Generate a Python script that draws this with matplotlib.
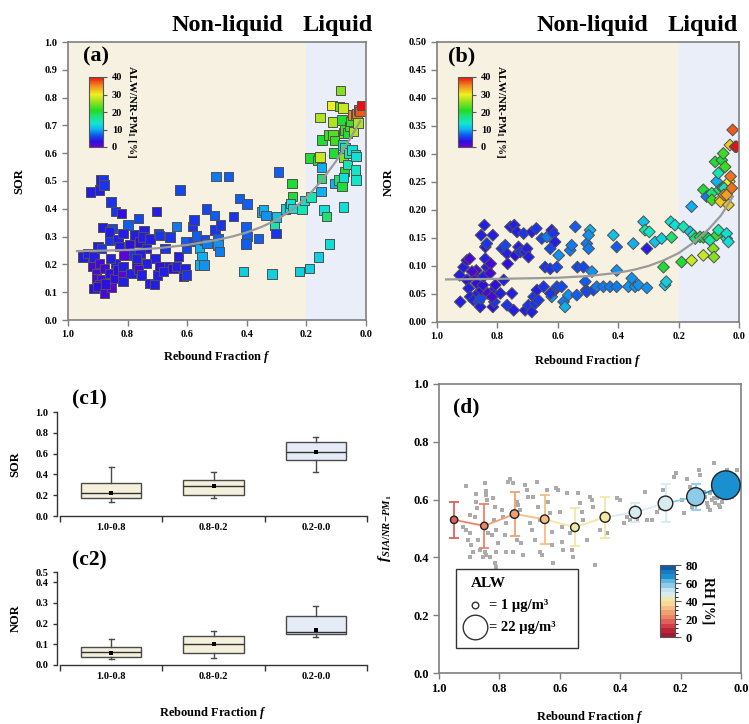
import numpy as np
import matplotlib
matplotlib.use('Agg')
import matplotlib.pyplot as plt
from matplotlib.colors import LinearSegmentedColormap, ListedColormap, BoundaryNorm
from matplotlib.patches import Rectangle

plt.rcParams['font.family'] = 'Liberation Serif'
plt.rcParams['font.weight'] = 'bold'
plt.rcParams['axes.labelweight'] = 'bold'
plt.rcParams['mathtext.fontset'] = 'custom'
plt.rcParams['mathtext.rm'] = 'Liberation Serif:bold'
plt.rcParams['mathtext.it'] = 'Liberation Serif:italic:bold'
plt.rcParams['mathtext.bf'] = 'Liberation Serif:bold'

# ---- (a) SOR vs rebound fraction, coloured by ALW/NR-PM1 ----
f_a = [0.95,0.933,0.913,0.924,0.894,0.891,0.88,0.879,0.856,0.84,0.82,0.885,0.851,0.798,0.764,0.9,0.888,0.86,0.86,0.832,0.828,0.815,0.793,0.776,0.759,0.745,0.748,0.737,0.725,0.703,0.697,0.692,0.675,0.658,0.708,0.669,0.737,0.916,0.905,0.894,0.905,0.888,0.877,0.894,0.913,0.9,0.877,0.854,0.874,0.86,0.843,0.84,0.832,0.815,0.812,0.815,0.815,0.857,0.788,0.781,0.77,0.764,0.753,0.759,0.77,0.726,0.71,0.7,0.692,0.68,0.647,0.63,0.636,0.613,0.608,0.602,0.624,0.636,0.582,0.577,0.602,0.604,0.582,0.568,0.559,0.551,0.557,0.543,0.541,0.533,0.535,0.509,0.503,0.461,0.507,0.488,0.496,0.496,0.492,0.445,0.425,0.4,0.402,0.4,0.402,0.411,0.361,0.35,0.344,0.335,0.316,0.308,0.302,0.294,0.3,0.271,0.257,0.249,0.247,0.254,0.246,0.223,0.215,0.207,0.189,0.189,0.185,0.163,0.154,0.154,0.15,0.15,0.151,0.148,0.159,0.141,0.133,0.123,0.125,0.114,0.112,0.111,0.109,0.105,0.105,0.092,0.086,0.089,0.08,0.08,0.077,0.075,0.077,0.075,0.073,0.075,0.075,0.07,0.07,0.063,0.058,0.062,0.055,0.05,0.047,0.044,0.042,0.036,0.036,0.033,0.033,0.036,0.033,0.03,0.025,0.02,0.014,0.027]
sor_a = [0.226,0.24,0.226,0.46,0.468,0.504,0.504,0.486,0.424,0.39,0.383,0.333,0.33,0.341,0.365,0.264,0.258,0.288,0.316,0.29,0.264,0.312,0.27,0.306,0.28,0.322,0.298,0.258,0.292,0.39,0.312,0.304,0.258,0.298,0.222,0.192,0.204,0.192,0.168,0.204,0.15,0.144,0.186,0.126,0.114,0.12,0.096,0.118,0.13,0.168,0.15,0.204,0.18,0.158,0.234,0.138,0.192,0.222,0.168,0.234,0.198,0.182,0.162,0.24,0.222,0.132,0.128,0.162,0.192,0.174,0.186,0.228,0.192,0.156,0.186,0.162,0.468,0.336,0.336,0.36,0.258,0.282,0.282,0.302,0.258,0.228,0.198,0.198,0.288,0.276,0.4,0.375,0.516,0.516,0.324,0.342,0.294,0.27,0.246,0.372,0.438,0.418,0.334,0.3,0.274,0.174,0.294,0.388,0.396,0.375,0.166,0.339,0.312,0.532,0.37,0.4,0.406,0.49,0.444,0.42,0.402,0.174,0.4,0.429,0.582,0.186,0.442,0.574,0.729,0.586,0.549,0.508,0.462,0.648,0.226,0.396,0.372,0.273,0.666,0.772,0.712,0.666,0.6,0.492,0.645,0.504,0.825,0.768,0.72,0.48,0.762,0.672,0.63,0.586,0.534,0.513,0.406,0.618,0.684,0.56,0.6,0.672,0.696,0.714,0.612,0.738,0.678,0.594,0.525,0.588,0.504,0.54,0.738,0.742,0.756,0.75,0.771,0.708]
alw_a = [4,4,4,4,4,4,5,5,5,5,3,4,6,7,6,4,5,5,4,4,4,4,3,4,3,4,4,4,4,4,6,5,5,5,4,4,4,2,2,2,2,2,2,2,3,3,2,1,3,3,3,4,3,1,1,4,4,4,4,5,3,2,4,4,4,4,4,4,3,4,3,4,4,4,4,5,6,8,5,5,6,7,6,7,10,10,10,9,6,8,6,7,8,7,5,5,7,9,8,5,7,7,7,7,7,12,7,10,10,9,12,15,5,7,11,12,13,20,20,13,13,12,15,13,20,12,15,20,27,28,10,18,10,20,12,13,18,13,22,30,27,23,20,10,22,18,25,23,20,20,28,25,13,25,20,13,13,15,22,15,15,20,22,22,13,35,27,14,13,13,14,14,36,36,37,37,42,27]
fit_f_a = [0.97,0.9,0.8,0.7,0.6,0.5,0.45,0.4,0.35,0.3,0.25,0.2,0.15,0.1,0.06,0.02]
fit_sor_a = [0.248,0.249,0.252,0.258,0.27,0.288,0.3,0.315,0.335,0.36,0.395,0.44,0.5,0.572,0.64,0.715]

# ---- (b) NOR vs rebound fraction ----
f_b = [0.925,0.923,0.912,0.901,0.892,0.901,0.895,0.89,0.879,0.873,0.87,0.884,0.868,0.865,0.862,0.857,0.855,0.852,0.848,0.846,0.84,0.84,0.835,0.854,0.843,0.815,0.835,0.822,0.824,0.818,0.815,0.81,0.832,0.818,0.807,0.79,0.779,0.785,0.774,0.768,0.766,0.768,0.752,0.746,0.757,0.744,0.735,0.741,0.73,0.724,0.713,0.708,0.702,0.697,0.708,0.697,0.686,0.68,0.675,0.664,0.669,0.686,0.671,0.653,0.647,0.636,0.625,0.62,0.614,0.609,0.642,0.625,0.62,0.609,0.625,0.603,0.603,0.597,0.587,0.581,0.576,0.565,0.559,0.554,0.542,0.537,0.535,0.515,0.509,0.506,0.504,0.504,0.498,0.493,0.498,0.487,0.482,0.471,0.449,0.427,0.405,0.416,0.405,0.405,0.366,0.35,0.355,0.344,0.333,0.316,0.311,0.305,0.305,0.297,0.278,0.256,0.25,0.245,0.241,0.223,0.226,0.212,0.19,0.184,0.157,0.157,0.162,0.151,0.145,0.129,0.118,0.118,0.118,0.107,0.107,0.101,0.096,0.09,0.09,0.085,0.083,0.079,0.074,0.074,0.068,0.068,0.065,0.063,0.061,0.057,0.054,0.052,0.049,0.05,0.046,0.041,0.041,0.035,0.041,0.035,0.032,0.03,0.028,0.024,0.021,0.013,0.008]
nor_b = [0.0835,0.036,0.098,0.11,0.113,0.075,0.06,0.045,0.039,0.081,0.092,0.09,0.069,0.051,0.036,0.027,0.042,0.057,0.066,0.081,0.113,0.134,0.14,0.155,0.173,0.155,0.098,0.104,0.087,0.054,0.027,0.036,0.051,0.045,0.066,0.051,0.075,0.131,0.137,0.122,0.104,0.03,0.051,0.021,0.17,0.173,0.161,0.119,0.134,0.125,0.158,0.125,0.131,0.116,0.021,0.03,0.018,0.045,0.033,0.039,0.057,0.161,0.167,0.149,0.063,0.152,0.131,0.164,0.158,0.143,0.098,0.095,0.045,0.057,0.051,0.063,0.098,0.119,0.063,0.036,0.027,0.048,0.128,0.137,0.17,0.048,0.098,0.098,0.072,0.057,0.054,0.14,0.131,0.164,0.155,0.09,0.057,0.063,0.063,0.063,0.063,0.155,0.134,0.092,0.063,0.14,0.078,0.063,0.066,0.179,0.164,0.131,0.061,0.161,0.143,0.149,0.098,0.066,0.072,0.151,0.179,0.173,0.107,0.17,0.11,0.206,0.161,0.155,0.149,0.152,0.151,0.119,0.236,0.224,0.152,0.149,0.146,0.23,0.218,0.131,0.116,0.286,0.251,0.155,0.164,0.266,0.236,0.218,0.215,0.289,0.239,0.301,0.239,0.227,0.277,0.149,0.158,0.143,0.227,0.209,0.251,0.316,0.26,0.239,0.343,0.313,0.313]
alw_b = [4,4,4,2,2,3,4,4,4,2,2,2,3,4,6,4,6,3,3,4,4,4,5,4,4,4,4,2,2,4,3,5,2,2,3,4,4,5,6,4,3,5,4,4,4,4,4,3,4,5,5,4,4,4,4,5,4,5,5,5,4,4,5,6,5,8,6,4,5,4,5,5,9,2,5,6,6,9,6,8,10,9,8,8,7,7,6,6,7,6,6,8,8,10,9,9,6,8,8,8,8,11,7,9,9,10,9,9,9,11,16,4,9,14,11,12,20,12,12,18,13,13,20,15,28,10,11,15,18,20,20,28,20,8,20,18,15,18,22,25,25,20,10,22,15,15,18,30,32,20,20,22,15,35,22,15,13,13,34,32,30,32,36,36,37,41,42]
fit_f_b = [0.97,0.9,0.8,0.7,0.6,0.5,0.45,0.4,0.35,0.3,0.25,0.2,0.15,0.1,0.06,0.02]
fit_nor_b = [0.076,0.0765,0.077,0.078,0.079,0.082,0.085,0.088,0.093,0.1,0.11,0.123,0.142,0.166,0.19,0.224]

# ---- (c1)/(c2) box statistics per rebound-fraction class ----
classes = ['1.0-0.8', '0.8-0.2', '0.2-0.0']
sor_whislo = [0.139, 0.171, 0.426]
sor_q1 = [0.171, 0.2, 0.539]
sor_med = [0.219, 0.287, 0.616]
sor_mean = [0.219, 0.287, 0.616]
sor_q3 = [0.316, 0.345, 0.71]
sor_whishi = [0.468, 0.423, 0.758]
nor_whislo = [0.027, 0.035, 0.137]
nor_q1 = [0.037, 0.058, 0.152]
nor_med = [0.061, 0.1, 0.161]
nor_mean = [0.058, 0.1, 0.168]
nor_q3 = [0.087, 0.14, 0.239]
nor_whishi = [0.124, 0.166, 0.285]

# ---- (d) fSIA/NR-PM1 vs rebound fraction ----
f_d = [0.909,0.898,0.92,0.909,0.898,0.904,0.893,0.887,0.898,0.878,0.876,0.874,0.882,0.871,0.865,0.854,0.848,0.845,0.843,0.841,0.837,0.848,0.843,0.832,0.821,0.815,0.819,0.81,0.826,0.804,0.812,0.815,0.81,0.793,0.788,0.777,0.782,0.777,0.771,0.765,0.754,0.743,0.738,0.732,0.743,0.754,0.727,0.721,0.716,0.71,0.705,0.688,0.699,0.693,0.683,0.677,0.671,0.666,0.666,0.66,0.644,0.638,0.633,0.627,0.627,0.622,0.611,0.605,0.6,0.594,0.594,0.588,0.577,0.566,0.561,0.555,0.539,0.533,0.528,0.522,0.511,0.5,0.494,0.489,0.483,0.467,0.456,0.45,0.445,0.412,0.4,0.389,0.378,0.367,0.345,0.317,0.312,0.295,0.279,0.268,0.257,0.235,0.223,0.215,0.196,0.19,0.179,0.168,0.163,0.14,0.135,0.124,0.118,0.113,0.108,0.102,0.091,0.102,0.096,0.085,0.08,0.074,0.063,0.058,0.046,0.024,0.013,0.019,0.015,0.03,0.052,0.08,0.069,0.091]
fsia_d = [0.648,0.547,0.506,0.495,0.483,0.46,0.443,0.42,0.403,0.619,0.593,0.57,0.541,0.46,0.426,0.403,0.658,0.631,0.616,0.599,0.483,0.42,0.409,0.403,0.604,0.576,0.529,0.495,0.478,0.449,0.42,0.38,0.368,0.564,0.541,0.518,0.478,0.417,0.662,0.673,0.656,0.593,0.581,0.564,0.46,0.42,0.449,0.409,0.65,0.633,0.61,0.61,0.518,0.495,0.46,0.662,0.576,0.529,0.42,0.409,0.633,0.593,0.553,0.489,0.443,0.38,0.639,0.633,0.558,0.506,0.455,0.426,0.622,0.483,0.426,0.403,0.622,0.587,0.558,0.529,0.46,0.61,0.599,0.576,0.374,0.495,0.541,0.529,0.483,0.604,0.599,0.518,0.541,0.529,0.529,0.627,0.529,0.529,0.558,0.57,0.633,0.587,0.679,0.691,0.599,0.553,0.673,0.645,0.576,0.702,0.685,0.627,0.61,0.587,0.576,0.564,0.725,0.622,0.599,0.587,0.604,0.581,0.593,0.691,0.702,0.685,0.702,0.662,0.627,0.61,0.61,0.633,0.576,0.604]
f_bin = [0.95, 0.85, 0.75, 0.65, 0.55, 0.45, 0.35, 0.25, 0.15, 0.05]
fsia_bin = [0.53, 0.509, 0.55, 0.532, 0.504, 0.539, 0.556, 0.587, 0.61, 0.65]
fsia_hi = [0.59, 0.585, 0.628, 0.617, 0.57, 0.608, 0.589, 0.653, 0.655, 0.69]
fsia_lo = [0.468, 0.432, 0.474, 0.448, 0.44, 0.467, 0.523, 0.521, 0.564, 0.61]
rh_bin = [17, 24, 27, 33, 42, 43, 48, 49, 58, 67]
alw_bin = [1.9, 1.9, 3.3, 3.3, 3.3, 5.0, 7.3, 10.3, 14.3, 26.7]
alw_legend = [1, 22]

# colour maps
alw_cmap = LinearSegmentedColormap.from_list('alw', [
    (0.0, '#7000d0'), (0.08, '#2a10e0'), (0.16, '#1050f0'), (0.26, '#10b8f0'),
    (0.34, '#10e8d0'), (0.45, '#20e070'), (0.52, '#20dc20'), (0.64, '#90e020'),
    (0.75, '#f0f020'), (0.87, '#f09020'), (1.0, '#e81010')])
rh_colors = ['#a01c30', '#b8243a', '#d23c48', '#e0605a', '#ec8468', '#f2a072',
             '#f6bd84', '#f8d89c', '#f2e6a8', '#d8ecf0', '#c4e3ef', '#8ccbea',
             '#5fb4e0', '#1a90d0', '#1a78bc', '#0b5ca2']
rh_cmap = ListedColormap(rh_colors)
rh_norm = BoundaryNorm(np.arange(0, 85, 5), rh_cmap.N)

spine_gray = '#7f7f7f'
beige = '#f6f1e1'
lightblue = '#e9eef8'


def alw_radius_pt(alw):
    # marker diameter in points for a given ALW (µg/m3)
    r_px = 3.3 + 0.4286 * (np.asarray(alw) - 1)
    return 2 * r_px * 0.72


def style_frame(ax):
    for s in ax.spines.values():
        s.set_color(spine_gray)
        s.set_linewidth(1.2)
    ax.tick_params(direction='out', length=4, width=1, color=spine_gray)


fig = plt.figure(figsize=(7.49, 7.24), dpi=100)

# ---------- (a) ----------
axa = fig.add_axes([68/749, 1-320/724, 298/749, 278/724])
axa.axvspan(1.0, 0.2, color=beige, zorder=0, lw=0)
axa.axvspan(0.2, 0.0, color=lightblue, zorder=0, lw=0)
axa.plot(fit_f_a, fit_sor_a, color='#9a9a9a', lw=1.6, zorder=3)
sca = axa.scatter(f_a, sor_a, c=alw_a, cmap=alw_cmap, vmin=0, vmax=40, marker='s',
                  s=46, edgecolors='#505050', linewidths=0.7, zorder=2)
axa.set_xlim(1.0, 0.0)
axa.set_ylim(0, 1.0)
axa.set_xticks(np.arange(0, 1.01, 0.2))
axa.set_xticklabels(['%.1f' % v for v in np.arange(0, 1.01, 0.2)])
axa.set_yticks(np.arange(0, 1.01, 0.1))
axa.set_yticklabels(['%.1f' % v for v in np.arange(0, 1.01, 0.1)])
style_frame(axa)
axa.tick_params(labelsize=7.5)
axa.set_ylabel('SOR', fontsize=9, labelpad=14)
axa.set_xlabel('Rebound Fraction $f$', fontsize=9, labelpad=7)
axa.text(0.05, 0.985, '(a)', transform=axa.transAxes, fontsize=16, va='top', ha='left')

caxa = fig.add_axes([89/749, 1-147/724, 14/749, 70/724])
cba = fig.colorbar(sca, cax=caxa, ticks=[0, 10, 20, 30, 40])
cba.outline.set_edgecolor('#555555')
caxa.tick_params(labelsize=7.5, length=3, color='#555555')
cba.set_label('ALW/NR-PM$_1$ [%]', rotation=270, fontsize=8, labelpad=11)

fig.text(227/749, 1-26/724, 'Non-liquid', fontsize=17.5, ha='center', va='center')
fig.text(338/749, 1-26/724, 'Liquid', fontsize=17.5, ha='center', va='center')

# ---------- (b) ----------
axb = fig.add_axes([437/749, 1-322/724, 302/749, 280/724])
axb.axvspan(1.0, 0.2, color=beige, zorder=0, lw=0)
axb.axvspan(0.2, 0.0, color=lightblue, zorder=0, lw=0)
axb.plot(fit_f_b, fit_nor_b, color='#9a9a9a', lw=1.6, zorder=3)
scb = axb.scatter(f_b, nor_b, c=alw_b, cmap=alw_cmap, vmin=0, vmax=40, marker='D',
                  s=36, edgecolors='#505050', linewidths=0.7, zorder=2)
axb.set_xlim(1.0, 0.0)
axb.set_ylim(0, 0.5)
axb.set_xticks(np.arange(0, 1.01, 0.2))
axb.set_xticklabels(['%.1f' % v for v in np.arange(0, 1.01, 0.2)])
axb.set_yticks(np.arange(0, 0.501, 0.05))
axb.set_yticklabels(['%.2f' % v for v in np.arange(0, 0.501, 0.05)])
style_frame(axb)
axb.tick_params(labelsize=7.5)
axb.set_ylabel('NOR', fontsize=9, labelpad=10)
axb.set_xlabel('Rebound Fraction $f$', fontsize=9, labelpad=8)
axb.text(0.036, 0.985, '(b)', transform=axb.transAxes, fontsize=16, va='top', ha='left')

caxb = fig.add_axes([458/749, 1-147/724, 14/749, 70/724])
cbb = fig.colorbar(scb, cax=caxb, ticks=[0, 10, 20, 30, 40])
cbb.outline.set_edgecolor('#555555')
caxb.tick_params(labelsize=7.5, length=3, color='#555555')
cbb.set_label('ALW/NR-PM$_1$ [%]', rotation=270, fontsize=8, labelpad=11)

fig.text(592/749, 1-26/724, 'Non-liquid', fontsize=17.5, ha='center', va='center')
fig.text(703/749, 1-26/724, 'Liquid', fontsize=17.5, ha='center', va='center')


# ---------- (c1) / (c2) ----------
def box_panel(ax, lo, q1, med, mean, q3, hi):
    stats = []
    for i in range(len(classes)):
        stats.append(dict(whislo=lo[i], q1=q1[i], med=med[i], mean=mean[i],
                          q3=q3[i], whishi=hi[i], fliers=[]))
    bp = ax.bxp(stats, positions=[1, 2, 3], widths=0.59, showmeans=True,
                patch_artist=True, capwidths=0.05,
                boxprops=dict(edgecolor='#4a4a4a', linewidth=1.0),
                medianprops=dict(color='#333333', linewidth=1.0),
                whiskerprops=dict(color='#4a4a4a', linewidth=1.0),
                capprops=dict(color='#4a4a4a', linewidth=1.0),
                meanprops=dict(marker='s', markerfacecolor='black',
                               markeredgewidth=0, markersize=2.6))
    for patch, col in zip(bp['boxes'], ['#f5f0dc', '#f5f0dc', '#e6ecf7']):
        patch.set_facecolor(col)
    ax.set_xlim(0.5, 3.5)
    ax.set_xticks([1, 2, 3])
    ax.set_xticklabels(classes)
    ax.set_xticks([0.5, 1.5, 2.5, 3.5], minor=True)
    ax.tick_params(axis='x', which='major', length=0, labelsize=7.5, pad=5)
    ax.tick_params(axis='x', which='minor', length=4, width=1, color='#333333')
    ax.tick_params(axis='y', labelsize=7.5, length=3, width=1, color='#333333')
    ax.spines['top'].set_visible(False)
    ax.spines['right'].set_visible(False)
    ax.spines['left'].set_position(('outward', 2))
    for s in ['left', 'bottom']:
        ax.spines[s].set_color('#333333')
        ax.spines[s].set_linewidth(1.0)
    ax.patch.set_alpha(0)


axc1 = fig.add_axes([60/749, 1-516/724, 307/749, 104/724])
box_panel(axc1, sor_whislo, sor_q1, sor_med, sor_mean, sor_q3, sor_whishi)
axc1.set_ylim(0, 1.0)
axc1.set_yticks(np.arange(0, 1.01, 0.2))
axc1.set_yticklabels(['%.1f' % v for v in np.arange(0, 1.01, 0.2)])
axc1.set_ylabel('SOR', fontsize=9, labelpad=10)
fig.text(72/749, 1-399/724, '(c1)', fontsize=15.5, ha='left', va='center')

axc2 = fig.add_axes([60/749, 1-665/724, 307/749, 93/724])
box_panel(axc2, nor_whislo, nor_q1, nor_med, nor_mean, nor_q3, nor_whishi)
axc2.set_ylim(0, 0.45)
axc2.set_yticks([0, 0.1, 0.2, 0.3, 0.4, 0.45])
axc2.set_yticklabels(['0.0', '0.1', '0.2', '0.3', '0.4', '0.5'])
axc2.set_ylabel('NOR', fontsize=9, labelpad=10)
fig.text(72/749, 1-560/724, '(c2)', fontsize=15.5, ha='left', va='center')
fig.text(213/749, 1-713/724, 'Rebound Fraction $f$', fontsize=9, ha='center', va='center')

# ---------- (d) ----------
axd = fig.add_axes([439/749, 1-673/724, 302/749, 289/724])
axd.scatter(f_d, fsia_d, marker='s', s=5, color='#ababab', lw=0, zorder=1)
bin_cols = [rh_cmap(rh_norm(v)) for v in rh_bin]
for i in range(len(f_bin) - 1):
    axd.plot(f_bin[i:i+2], fsia_bin[i:i+2], color=bin_cols[i+1], lw=1.3, zorder=2)
for i in range(len(f_bin)):
    axd.errorbar(f_bin[i], fsia_bin[i],
                 yerr=[[fsia_bin[i] - fsia_lo[i]], [fsia_hi[i] - fsia_bin[i]]],
                 fmt='none', ecolor=bin_cols[i], elinewidth=1.3, capsize=3.5,
                 capthick=1.3, zorder=3)
axd.scatter(f_bin, fsia_bin, s=alw_radius_pt(alw_bin) ** 2, c=bin_cols,
            edgecolors='#222222', linewidths=1.0, zorder=4)
axd.set_xlim(1.0, 0.0)
axd.set_ylim(0, 1.0)
axd.set_xticks(np.arange(0, 1.01, 0.2))
axd.set_xticklabels(['%.1f' % v for v in np.arange(0, 1.01, 0.2)])
axd.set_yticks(np.arange(0, 1.01, 0.2))
axd.set_yticklabels(['%.1f' % v for v in np.arange(0, 1.01, 0.2)])
style_frame(axd)
axd.tick_params(labelsize=9)
axd.set_ylabel('$f_{SIA/NR{-}PM_1}$', fontsize=11, labelpad=14)
axd.set_xlabel('Rebound Fraction $f$', fontsize=9, labelpad=10)
axd.text(0.046, 0.955, '(d)', transform=axd.transAxes, fontsize=15.5, va='top', ha='left')

# ALW size legend
axd.add_patch(Rectangle((0.056, 0.0865), 0.404, 0.2735, transform=axd.transAxes,
                        facecolor='white', edgecolor='#333333', lw=1.0, zorder=5))
axd.text(0.162, 0.311, 'ALW', transform=axd.transAxes, fontsize=11,
         ha='center', va='center', zorder=6)
for (yy, val) in zip([0.235, 0.159], alw_legend):
    axd.plot([0.12], [yy], transform=axd.transAxes, marker='o',
             markersize=alw_radius_pt(val), markerfacecolor='white',
             markeredgecolor='#333333', markeredgewidth=1.0, zorder=6)
    axd.text(0.165, yy, '= %d µg/m³' % val, transform=axd.transAxes, fontsize=10.5,
             ha='left', va='center', zorder=6)

caxd = fig.add_axes([660/749, 1-637/724, 15/749, 72/724])
cbd = fig.colorbar(plt.cm.ScalarMappable(norm=rh_norm, cmap=rh_cmap), cax=caxd,
                   ticks=[0, 20, 40, 60, 80])
cbd.outline.set_edgecolor('#555555')
caxd.tick_params(labelsize=9, length=4, color='#555555')
cbd.set_label('RH [%]', rotation=270, fontsize=10, labelpad=12)

fig.savefig('out.png', dpi=100)
